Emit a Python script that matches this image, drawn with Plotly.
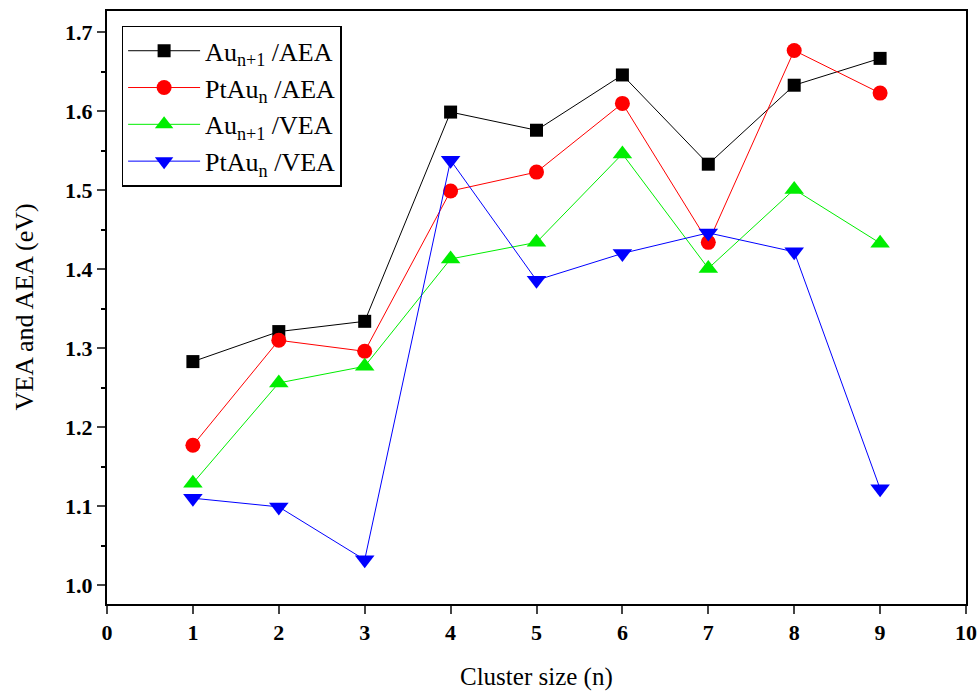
import plotly.graph_objects as go

n = [1, 2, 3, 4, 5, 6, 7, 8, 9]
au_aea = [1.283, 1.321, 1.334, 1.599, 1.576, 1.646, 1.533, 1.633, 1.667]
ptau_aea = [1.177, 1.310, 1.296, 1.499, 1.523, 1.610, 1.434, 1.677, 1.623]
au_vea = [1.129, 1.256, 1.277, 1.413, 1.434, 1.546, 1.401, 1.501, 1.433]
ptau_vea = [1.110, 1.099, 1.032, 1.538, 1.386, 1.420, 1.446, 1.422, 1.122]

names = ["Au<sub>n+1</sub> /AEA", "PtAu<sub>n</sub> /AEA", "Au<sub>n+1</sub> /VEA", "PtAu<sub>n</sub> /VEA"]
series = [au_aea, ptau_aea, au_vea, ptau_vea]
colors = ["#000000", "#ff0000", "#00ee00", "#0000ff"]
symbols = ["square", "circle", "triangle-up", "triangle-down"]
sizes = [13, 15, 17, 17]

fig = go.Figure()
for nm, ys, c, s, sz in zip(names, series, colors, symbols, sizes):
    fig.add_trace(go.Scatter(x=n, y=ys, name=nm, mode="lines+markers",
                             line=dict(color=c, width=1),
                             marker=dict(symbol=s, size=sz, color=c)))

font = "Liberation Serif"
fig.update_layout(
    width=979, height=692,
    margin=dict(l=107, r=13, t=11, b=88),
    plot_bgcolor="white", paper_bgcolor="white",
    font=dict(family=font, color="black"),
    showlegend=True,
    legend=dict(x=0.017, y=0.975, xanchor="left", yanchor="top",
                bordercolor="black", borderwidth=1.5, bgcolor="white",
                font=dict(size=26, family=font), itemwidth=72,
                tracegroupgap=0),
    annotations=[
        dict(text="Cluster size (n)", xref="paper", yref="paper", x=0.5, y=0,
             xanchor="center", yanchor="middle", yshift=-73, showarrow=False,
             font=dict(size=25, family=font)),
        dict(text="VEA and AEA (eV)", xref="paper", yref="paper", x=0, y=0.5,
             xanchor="center", yanchor="middle", xshift=-83, showarrow=False,
             textangle=-90, font=dict(size=26, family=font)),
    ],
)
fig.update_xaxes(range=[0, 10], dtick=1, tick0=0, showline=True, linecolor="black",
                 linewidth=2, mirror=True, ticks="outside", ticklen=8, tickwidth=2,
                 showgrid=False, zeroline=False, automargin=False,
                 tickfont=dict(size=22, family=font, weight="bold"))
fig.update_yaxes(range=[0.976, 1.727], tickvals=[1.0, 1.1, 1.2, 1.3, 1.4, 1.5, 1.6, 1.7],
                 ticktext=["1.0", "1.1", "1.2", "1.3", "1.4", "1.5", "1.6", "1.7"],
                 showline=True, linecolor="black",
                 linewidth=2, mirror=True, ticks="outside", ticklen=8, tickwidth=2,
                 minor=dict(dtick=0.05, tick0=0.95, ticks="outside", ticklen=4, tickwidth=1.5, tickcolor="black"),
                 showgrid=False, zeroline=False, automargin=False,
                 tickfont=dict(size=22, family=font, weight="bold"))

fig.write_html("out.html")
